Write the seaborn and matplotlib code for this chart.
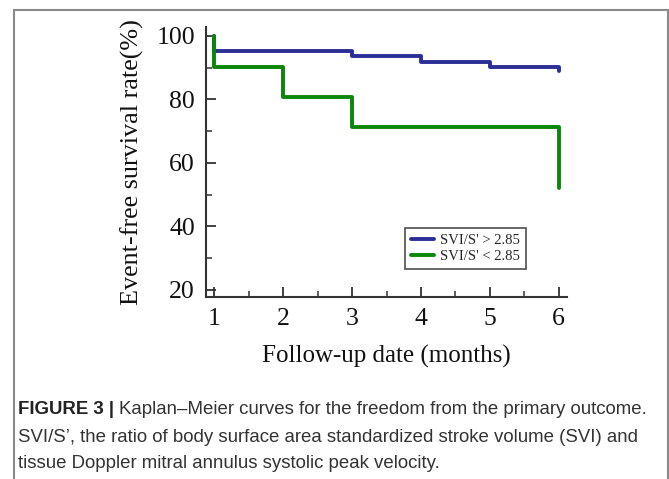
import pandas as pd
import matplotlib.pyplot as plt
import seaborn as sns
from matplotlib.patches import Rectangle
from matplotlib.ticker import MultipleLocator

# Kaplan-Meier step points
months_high = [1, 1, 3, 4, 5, 6]
surv_high = [100, 95.3, 93.7, 91.9, 90.2, 89.0]
months_low = [1, 1, 2, 3, 6]
surv_low = [100, 90.3, 80.7, 71.4, 52.2]
group_labels = ["SVI/S' > 2.85", "SVI/S' < 2.85"]
line_colors = ["#2b2e96", "#0b860b"]

df = pd.concat([
    pd.DataFrame({"month": months_high, "survival": surv_high, "group": group_labels[0]}),
    pd.DataFrame({"month": months_low, "survival": surv_low, "group": group_labels[1]}),
], ignore_index=True)

sns.set_style("ticks")
plt.rcParams["font.family"] = ["Liberation Serif", "DejaVu Serif"]

fig = plt.figure(figsize=(6.69, 4.79), dpi=100)
ax = fig.add_axes([0.308, 0.380, 0.5396, 0.5637])

sns.lineplot(
    data=df,
    x="month",
    y="survival",
    hue="group",
    palette=dict(zip(group_labels, line_colors)),
    estimator=None,
    sort=False,
    drawstyle="steps-post",
    linewidth=2.8,
    ax=ax
)

ax.set_xlim(0.88, 6.12)
ax.set_ylim(17.8, 102.8)
ax.set_xticks([1, 2, 3, 4, 5, 6])
ax.set_yticks([20, 40, 60, 80, 100])
ax.xaxis.set_minor_locator(MultipleLocator(0.5))
ax.yaxis.set_minor_locator(MultipleLocator(10))

for side in ["top", "right"]:
    ax.spines[side].set_visible(False)
for side in ["left", "bottom"]:
    ax.spines[side].set_color("#333333")
    ax.spines[side].set_linewidth(1.5)

ax.tick_params(which="major", direction="in", length=7, width=1.3,
               color="#333333", labelsize=18.5, pad=8, labelcolor="#111111")
ax.tick_params(which="minor", direction="in", length=4, width=1.1, color="#333333")

ax.set_xlabel("Follow-up date (months)", fontsize=18, labelpad=11, color="#111111")
ax.set_ylabel("Event-free survival rate(%)", fontsize=18.8, labelpad=9, color="#111111")

leg = ax.legend(
    loc="upper left",
    bbox_to_anchor=(0.551, 0.256),
    borderaxespad=0,
    fontsize=10.5,
    frameon=True,
    fancybox=False,
    handlelength=1.6,
    handletextpad=0.4,
    borderpad=0.4,
    labelspacing=0.2
)
leg.get_frame().set_edgecolor("#222222")
leg.get_frame().set_linewidth(1.2)
for line in leg.get_lines():
    line.set_linewidth(2.8)

# outer frame of the figure panel
fig.patches.append(Rectangle(
    (14 / 669, -0.1), (668 - 14) / 669, 1.1 - 10 / 479,
    transform=fig.transFigure, fill=False, edgecolor="#8a8a8a", linewidth=1.5
))

cap_font = ["Liberation Sans", "DejaVu Sans"]
cap_size = 13.45
bold = fig.text(18 / 669, 1 - 410 / 479, "FIGURE 3 | ", fontsize=cap_size, fontweight="bold",
                family=cap_font, color="#222222", va="center")
renderer = fig.canvas.get_renderer()
bb = bold.get_window_extent(renderer=renderer)
fig.text(bb.x1 / fig.bbox.width, 1 - 410 / 479,
         "Kaplan\u2013Meier curves for the freedom from the primary outcome.",
         fontsize=cap_size, family=cap_font, color="#333333", va="center")
fig.text(18 / 669, 1 - 437 / 479,
         "SVI/S\u2019, the ratio of body surface area standardized stroke volume (SVI) and",
         fontsize=cap_size, family=cap_font, color="#333333", va="center")
fig.text(18 / 669, 1 - 463 / 479,
         "tissue Doppler mitral annulus systolic peak velocity.",
         fontsize=cap_size, family=cap_font, color="#333333", va="center")

fig.savefig("out.png", dpi=100)
